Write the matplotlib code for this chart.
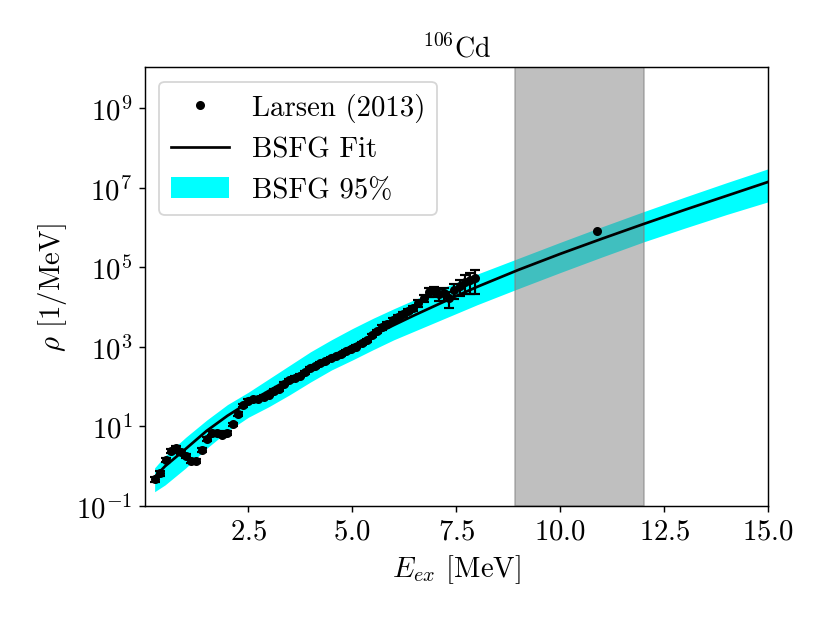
import numpy as np
import matplotlib
matplotlib.use("Agg")
import matplotlib.pyplot as plt
from matplotlib.ticker import NullLocator

plt.rcParams["font.family"] = "serif"
plt.rcParams["font.serif"] = ["cmr10"]
plt.rcParams["mathtext.fontset"] = "cm"
plt.rcParams["axes.formatter.use_mathtext"] = True
plt.rcParams["font.size"] = 16

# Larsen (2013) level density, excitation energy [MeV] and log10(rho)
e_data = [0.264, 0.388, 0.512, 0.636, 0.760, 0.884, 1.008, 1.132, 1.256, 1.380,
          1.504, 1.628, 1.752, 1.876, 2.000, 2.124, 2.248, 2.372, 2.496, 2.620,
          2.744, 2.868, 2.992, 3.116, 3.240, 3.364, 3.488, 3.612, 3.736, 3.860,
          3.984, 4.108, 4.232, 4.356, 4.480, 4.604, 4.728, 4.852, 4.976, 5.100,
          5.224, 5.348, 5.472, 5.596, 5.720, 5.844, 5.968, 6.092, 6.216, 6.340,
          6.464, 6.588, 6.712, 6.836, 6.960, 7.084, 7.208, 7.332, 7.456, 7.580,
          7.704, 7.828, 7.952]
log_rho_data = [-0.32, -0.17, 0.16, 0.39, 0.46, 0.36, 0.26, 0.14, 0.14, 0.41,
                0.69, 0.84, 0.84, 0.79, 0.84, 1.05, 1.32, 1.53, 1.65, 1.68,
                1.70, 1.75, 1.80, 1.90, 1.95, 2.08, 2.16, 2.23, 2.28, 2.36,
                2.46, 2.51, 2.59, 2.64, 2.71, 2.76, 2.81, 2.89, 2.94, 3.01,
                3.09, 3.17, 3.29, 3.39, 3.49, 3.57, 3.67, 3.75, 3.82, 3.90,
                3.97, 4.10, 4.23, 4.38, 4.40, 4.33, 4.35, 4.23, 4.43, 4.53,
                4.63, 4.68, 4.73]
rel_err = [0.15, 0.15, 0.12, 0.12, 0.12, 0.12, 0.12, 0.12, 0.12, 0.10,
           0.10, 0.10, 0.10, 0.10, 0.10, 0.10, 0.10, 0.10, 0.10, 0.10,
           0.10, 0.10, 0.10, 0.10, 0.10, 0.10, 0.10, 0.10, 0.10, 0.10,
           0.10, 0.10, 0.10, 0.10, 0.10, 0.10, 0.10, 0.10, 0.10, 0.10,
           0.10, 0.10, 0.10, 0.10, 0.12, 0.12, 0.12, 0.12, 0.12, 0.12,
           0.15, 0.20, 0.20, 0.25, 0.30, 0.35, 0.35, 0.45, 0.40, 0.45,
           0.50, 0.55, 0.60]

# extra point near Sn
e_sn = [10.89]
log_rho_sn = [5.92]

# BSFG fit and 95% band (log10 rho)
e_fit = [0.25, 0.5, 1.0, 1.5, 2.0, 2.5, 3.0, 3.5, 4.0, 4.5, 5.0, 5.5, 6.0,
         6.5, 7.0, 7.5, 8.0, 9.0, 10.0, 11.0, 12.0, 13.0, 14.0, 15.0]
log_fit = [-0.27, 0.00, 0.44, 0.89, 1.27, 1.60, 1.90, 2.20, 2.48, 2.76, 3.03,
           3.29, 3.55, 3.80, 4.04, 4.28, 4.51, 4.94, 5.34, 5.72, 6.09, 6.45,
           6.80, 7.15]
log_upper = [-0.04, 0.26, 0.73, 1.16, 1.55, 1.86, 2.20, 2.54, 2.88, 3.18, 3.46,
             3.72, 3.96, 4.19, 4.41, 4.62, 4.83, 5.23, 5.63, 6.02, 6.40, 6.77,
             7.13, 7.48]
log_lower = [-0.64, -0.47, -0.04, 0.45, 0.88, 1.23, 1.50, 1.80, 2.12, 2.42,
             2.67, 2.93, 3.18, 3.40, 3.62, 3.84, 4.06, 4.47, 4.87, 5.26, 5.64,
             5.99, 6.33, 6.65]

# shaded energy window
span_lo, span_hi = 8.92, 12.02

rho = 10 ** np.array(log_rho_data)
err = rho * np.array(rel_err)

fig = plt.figure(figsize=(6.4, 4.8), dpi=129.75)
ax = fig.add_axes([0.1747, 0.1862, 0.7506, 0.7047])

ax.fill_between(e_fit, 10 ** np.array(log_lower), 10 ** np.array(log_upper),
                color="cyan", lw=0, label="BSFG 95%", zorder=1)
ax.axvspan(span_lo, span_hi, color="grey", alpha=0.5, zorder=2)
ax.plot(e_fit, 10 ** np.array(log_fit), "k-", lw=1.5, label="BSFG Fit", zorder=3)
ax.errorbar(e_data, rho, yerr=err, fmt="none", ecolor="k", elinewidth=1.2,
            capsize=3, capthick=1.2, zorder=4)
ax.plot(e_data + e_sn, 10 ** np.array(log_rho_data + log_rho_sn), "ko", ms=4,
        ls="none", label="Larsen (2013)", zorder=5)

ax.set_yscale("log")
ax.set_xlim(0.02, 15)
ax.set_ylim(1e-1, 1.08e10)
ax.set_yticks([1e-1, 1e1, 1e3, 1e5, 1e7, 1e9])
ax.yaxis.set_minor_locator(NullLocator())
ax.set_xticks([2.5, 5.0, 7.5, 10.0, 12.5, 15.0])

ax.set_xlabel(r"$E_{ex}$ [MeV]")
ax.set_ylabel(r"$\rho$ [1/MeV]")
ax.set_title(r"$^{106}$Cd", fontsize=15.5)

h, l = ax.get_legend_handles_labels()
order = [l.index("Larsen (2013)"), l.index("BSFG Fit"), l.index("BSFG 95%")]
ax.legend([h[i] for i in order], [l[i] for i in order], loc="upper left")

fig.savefig("out.png", dpi=129.75)
